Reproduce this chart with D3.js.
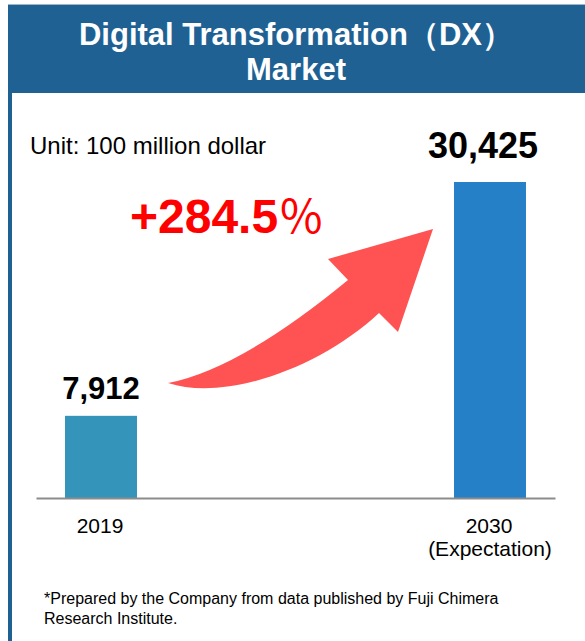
<!DOCTYPE html>
<html>
<head>
<meta charset="utf-8">
<script src="https://cdn.jsdelivr.net/npm/d3@7"></script>
<style>
  html, body { margin: 0; padding: 0; background: #fff; }
  svg { display: block; font-family: Arial, "Liberation Sans", sans-serif; }
</style>
</head>
<body>
<div id="chart"></div>
<script>
// chart data
var years = ["2019", "2030"];
var subLabels = ["", "(Expectation)"];
var values = [7912, 30425];
var valueLabels = ["7,912", "30,425"];
var growthLabel = "+284.5";
var titleLines = ["Digital Transformation（DX）", "Market"];
var unitLabel = "Unit: 100 million dollar";
var footnoteLines = ["*Prepared by the Company from data published by Fuji Chimera", "Research Institute."];

var width = 585,
    height = 641;

var barColors = ["#3494ba", "#2680c8"],
    labelSizes = [31, 36],
    labelOffsets = [17, 24],
    labelShift = [0, -7];

var svg = d3.select("#chart").append("svg")
    .attr("width", width)
    .attr("height", height);

// frame: header band + left border
svg.append("rect")
    .attr("x", 8).attr("y", 4)
    .attr("width", width - 8).attr("height", 89)
    .attr("fill", "#1f6193");
svg.append("line")
    .attr("x1", 8).attr("x2", width)
    .attr("y1", 4.5).attr("y2", 4.5)
    .attr("stroke", "#9fb4c6").attr("stroke-width", 1);
svg.append("rect")
    .attr("x", 8).attr("y", 93)
    .attr("width", 4).attr("height", height - 93)
    .attr("fill", "#1f6193");

// title
svg.selectAll("text.title")
    .data(titleLines)
    .enter()
    .append("text")
        .attr("class", "title")
        .attr("x", 296)
        .attr("y", function(d, i) { return 45 + i * 35; })
        .attr("text-anchor", "middle")
        .attr("fill", "#fff")
        .style("font-size", "31px")
        .style("font-weight", "bold")
        .text(function(d) { return d; });

// unit
svg.append("text")
    .attr("x", 30).attr("y", 154)
    .style("font-size", "24px")
    .attr("fill", "#000")
    .text(unitLabel);

// scales
var xScale = d3.scaleBand()
    .domain(years)
    .range([36, 555])
    .paddingInner(0.815)
    .paddingOuter(0.0746);

var yScale = d3.scaleLinear()
    .domain([0, d3.max(values)])
    .range([498, 182]);

// arrow (drawn behind labels)
svg.append("path")
    .attr("d", "M168,383 Q240,369 348,280 L328,259 L433,229 L398,332 L379,313 C320,368 225,402 168,383 Z")
    .attr("fill", "#ff5353");

// growth label
var growth = svg.append("text")
    .attr("x", 130).attr("y", 233)
    .attr("fill", "#ff0000")
    .style("font-size", "48px")
    .style("font-weight", "bold");
growth.append("tspan").text(growthLabel);
growth.append("tspan")
    .style("font-weight", "normal")
    .style("font-family", "'Noto Sans CJK JP', sans-serif")
    .style("font-size", "46px")
    .text("％");

// bars
svg.selectAll("rect.bar")
    .data(values)
    .enter()
    .append("rect")
        .attr("class", "bar")
        .attr("x", function(d, i) { return xScale(years[i]); })
        .attr("y", function(d) { return yScale(d); })
        .attr("width", xScale.bandwidth())
        .attr("height", function(d) { return yScale(0) - yScale(d); })
        .attr("fill", function(d, i) { return barColors[i]; });

// value labels
svg.selectAll("text.value")
    .data(values)
    .enter()
    .append("text")
        .attr("class", "value")
        .attr("x", function(d, i) { return xScale(years[i]) + xScale.bandwidth() / 2 + labelShift[i]; })
        .attr("y", function(d, i) { return yScale(d) - labelOffsets[i]; })
        .attr("text-anchor", "middle")
        .style("font-size", function(d, i) { return labelSizes[i] + "px"; })
        .style("font-weight", "bold")
        .text(function(d, i) { return valueLabels[i]; });

// x axis (line + labels)
var axis = svg.append("g")
    .attr("transform", "translate(0," + yScale(0) + ")")
    .call(d3.axisBottom(xScale).tickSize(0).tickPadding(0).tickFormat(""));
axis.select(".domain")
    .attr("stroke", "#8c8c8c")
    .attr("stroke-width", 2);

svg.selectAll("text.year")
    .data(years)
    .enter()
    .append("text")
        .attr("class", "year")
        .attr("x", function(d) { return xScale(d) + xScale.bandwidth() / 2 - 1; })
        .attr("y", 533)
        .attr("text-anchor", "middle")
        .style("font-size", "21px")
        .text(function(d) { return d; });

svg.selectAll("text.sub")
    .data(subLabels)
    .enter()
    .append("text")
        .attr("class", "sub")
        .attr("x", function(d, i) { return xScale(years[i]) + xScale.bandwidth() / 2; })
        .attr("y", 556)
        .attr("text-anchor", "middle")
        .style("font-size", "21px")
        .text(function(d) { return d; });

// footnote
svg.selectAll("text.note")
    .data(footnoteLines)
    .enter()
    .append("text")
        .attr("class", "note")
        .attr("x", 44)
        .attr("y", function(d, i) { return 604 + i * 20; })
        .style("font-size", "16px")
        .text(function(d) { return d; });
</script>
</body>
</html>
